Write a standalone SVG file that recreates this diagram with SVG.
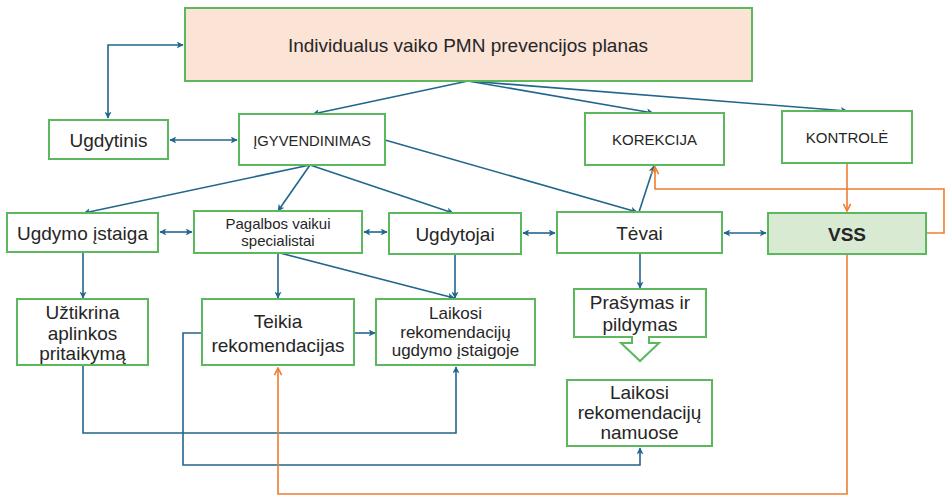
<svg xmlns="http://www.w3.org/2000/svg" width="945" height="496" viewBox="0 0 945 496">
<style>
.box{fill:#fff;stroke:#5cb85c;stroke-width:2}
.t{font-family:"Liberation Sans",Arial,sans-serif;fill:#262626;text-anchor:middle}
.b{fill:none;stroke:#21668c;stroke-width:1.6}
.o{fill:none;stroke:#ed7d31;stroke-width:1.6}
</style>
<defs>
<marker id="ab" viewBox="0 0 10 10" refX="9" refY="5" markerWidth="7" markerHeight="7" markerUnits="userSpaceOnUse" orient="auto-start-reverse"><path d="M0,0 L10,5 L0,10 L2.5,5 z" fill="#21668c"/></marker>
<marker id="ao" viewBox="0 0 10 10" refX="9" refY="5" markerWidth="9" markerHeight="9" markerUnits="userSpaceOnUse" orient="auto"><path d="M1,1 L9,5 L1,9" fill="none" stroke="#ed7d31" stroke-width="1.8"/></marker>
</defs>
<rect width="945" height="496" fill="#fff"/>
<g id="connectors">
<path class="b" d="M108,118 V45 H183" marker-start="url(#ab)" marker-end="url(#ab)"/>
<path class="b" d="M170,140 H237" marker-start="url(#ab)" marker-end="url(#ab)"/>
<path class="b" d="M468,81 L313,114" marker-end="url(#ab)"/>
<path class="b" d="M468,81 L653,113" marker-end="url(#ab)"/>
<path class="b" d="M468,81 L847,111" marker-end="url(#ab)"/>
<path class="b" d="M385,140 L637,212" marker-end="url(#ab)"/>
<path class="b" d="M310,165 L84,213" marker-end="url(#ab)"/>
<path class="b" d="M310,165 L278,211" marker-end="url(#ab)"/>
<path class="b" d="M310,165 L453,213" marker-end="url(#ab)"/>
<path class="b" d="M160,232 H192" marker-start="url(#ab)" marker-end="url(#ab)"/>
<path class="b" d="M364,232 H387" marker-start="url(#ab)" marker-end="url(#ab)"/>
<path class="b" d="M523,233 H555" marker-start="url(#ab)" marker-end="url(#ab)"/>
<path class="b" d="M724,233 H766" marker-start="url(#ab)" marker-end="url(#ab)"/>
<path class="b" d="M639,212 L654,166" marker-end="url(#ab)"/>
<path class="b" d="M83,252 V298" marker-end="url(#ab)"/>
<path class="b" d="M278,253 V298" marker-end="url(#ab)"/>
<path class="b" d="M280,253 L454,298" marker-end="url(#ab)"/>
<path class="b" d="M455,254 V298" marker-end="url(#ab)"/>
<path class="b" d="M354,333 H375" marker-end="url(#ab)"/>
<path class="b" d="M640,253 V288" marker-end="url(#ab)"/>
<path class="b" d="M83,365 V433 H456 V367" marker-end="url(#ab)"/>
<path class="b" d="M202,333 H183 V465 H640 V448" marker-end="url(#ab)"/>
<path class="o" d="M847,163 V211" marker-end="url(#ao)"/>
<path class="o" d="M926,233 H944 V189 H655 V167" marker-end="url(#ao)"/>
<path class="o" d="M847,254 V494 H278 V368" marker-end="url(#ao)"/>
</g>
<g id="plan"><rect x="185" y="8" width="567" height="73" fill="#fbe3d6" stroke="#5cb85c" stroke-width="2"/><text class="t" x="468" y="52" font-size="19">Individualus vaiko PMN prevencijos planas</text></g>
<g id="ugdytinis"><rect class="box" x="49" y="120" width="119" height="39"/><text class="t" x="108.5" y="147" font-size="19">Ugdytinis</text></g>
<g id="igyvendinimas"><rect class="box" x="239" y="114" width="146" height="51"/><text class="t" x="312" y="146" font-size="14.8">ĮGYVENDINIMAS</text></g>
<g id="korekcija"><rect class="box" x="585" y="113" width="139" height="52"/><text class="t" x="654.5" y="145" font-size="15">KOREKCIJA</text></g>
<g id="kontrole"><rect class="box" x="782" y="111" width="130" height="52"/><text class="t" x="847" y="143" font-size="15">KONTROLĖ</text></g>
<g id="ugdymo-istaiga"><rect class="box" x="7" y="213" width="151" height="39"/><text class="t" x="82.5" y="240" font-size="19">Ugdymo įstaiga</text></g>
<g id="pagalbos"><rect class="box" x="194" y="211" width="168" height="42"/><text class="t" x="278" y="229" font-size="15">Pagalbos vaikui</text><text class="t" x="278" y="246" font-size="15">specialistai</text></g>
<g id="ugdytojai"><rect class="box" x="389" y="213" width="132" height="41"/><text class="t" x="455" y="241" font-size="19">Ugdytojai</text></g>
<g id="tevai"><rect class="box" x="557" y="212" width="165" height="41"/><text class="t" x="639.5" y="240" font-size="19">Tėvai</text></g>
<g id="vss"><rect x="768" y="213" width="158" height="41" fill="#d9ead3" stroke="#5cb85c" stroke-width="2"/><text class="t" x="847" y="241" font-size="19" font-weight="bold">VSS</text></g>
<g id="uztikrina"><rect class="box" x="17" y="299" width="131" height="66"/><text class="t" x="82.5" y="319" font-size="19">Užtikrina</text><text class="t" x="82.5" y="339.5" font-size="19">aplinkos</text><text class="t" x="82.5" y="360" font-size="19">pritaikymą</text></g>
<g id="teikia"><rect class="box" x="202" y="299" width="152" height="66"/><text class="t" x="278" y="328" font-size="19">Teikia</text><text class="t" x="278" y="352" font-size="19">rekomendacijas</text></g>
<g id="laikosi-ugdymo"><rect class="box" x="376" y="299" width="159" height="66"/><text class="t" x="455.5" y="319" font-size="17">Laikosi</text><text class="t" x="455.5" y="337.5" font-size="17">rekomendacijų</text><text class="t" x="455.5" y="356" font-size="17">ugdymo įstaigoje</text></g>
<g id="prasymas"><rect class="box" x="574" y="289" width="132" height="48"/><text class="t" x="640" y="309" font-size="19">Prašymas ir</text><text class="t" x="640" y="331" font-size="19">pildymas</text><path d="M632,336 V343 H621 L640,361 L659,343 H649 V336" fill="#fff" stroke="#5cb85c" stroke-width="2"/></g>
<g id="laikosi-namuose"><rect class="box" x="567" y="380" width="145" height="66"/><text class="t" x="639.5" y="399" font-size="19">Laikosi</text><text class="t" x="639.5" y="419" font-size="19">rekomendacijų</text><text class="t" x="639.5" y="439" font-size="19">namuose</text></g>
</svg>
